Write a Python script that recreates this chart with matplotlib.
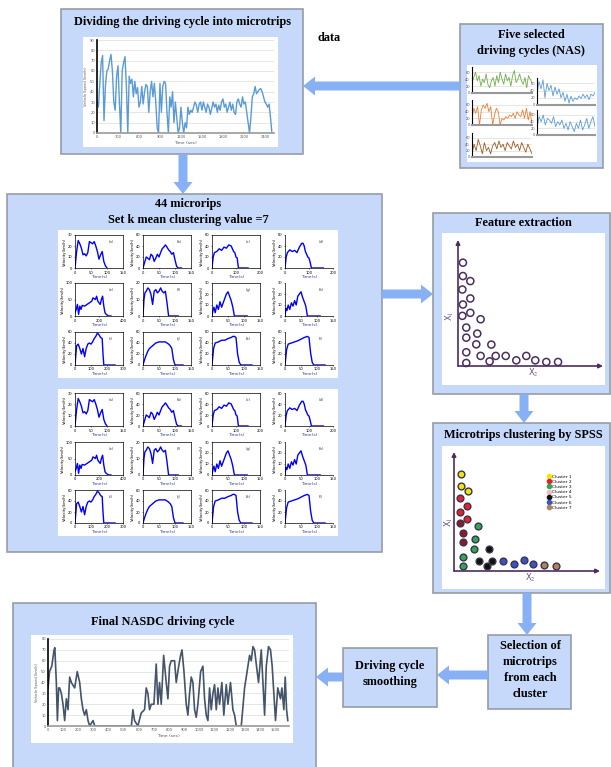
import matplotlib
matplotlib.use('Agg')
import matplotlib.pyplot as plt
from matplotlib.patches import Rectangle, FancyArrow
from matplotlib.lines import Line2D
import numpy as np

plt.rcParams['mathtext.fontset'] = 'stix'

# ---------------- data ----------------
# recorded cycle used for dividing into microtrips (one value every 20 s)
cycle_step = 20
cycle_speed = [30, 25, 48, 68, 75, 12, 45, 60, 62, 70, 76, 60, 30, 22, 55, 65, 30, 0, 60, 68,
               74, 45, 0, 55, 48, 52, 35, 50, 38, 44, 25, 30, 45, 28, 40, 47, 45, 20, 40, 50,
               35, 48, 30, 5, 0, 48, 20, 45, 50, 48, 20, 0, 35, 25, 40, 10, 30, 15, 0, 5,
               25, 10, 0, 10, 5, 25, 18, 22, 20, 25, 30, 27, 20, 28, 30, 22, 30, 25, 20, 28,
               25, 18, 24, 30, 25, 28, 20, 27, 22, 30, 33, 25, 28, 20, 25, 30, 22, 28, 20, 18,
               30, 33, 28, 25, 35, 28, 30, 20, 10, 0, 15, 35, 38, 45, 38, 40, 42, 43, 40, 35,
               30, 28, 25, 28, 15, 0]
cycle_xticks = [0, 300, 600, 900, 1200, 1500, 1800, 2100, 2400]

# five selected NAS cycles (thumbnails)
nas_green = [30, 45, 60, 35, 50, 20, 40, 30, 55, 25, 15, 35, 45, 20, 50, 30, 60, 40, 25, 55,
             35, 45, 20, 50, 65, 30, 40, 55, 35, 25, 45, 15, 50, 40, 30]
nas_orange = [20, 50, 35, 55, 0, 45, 60, 50, 65, 40, 55, 0, 30, 50, 40, 0, 20, 15, 25, 20,
              30, 25, 35, 20, 40, 30, 25, 45, 20, 50, 15, 40, 0]
nas_brown = [10, 40, 20, 55, 35, 10, 45, 20, 30, 10, 35, 45, 25, 50, 30, 40, 20, 45, 35, 25,
             50, 30, 40, 20, 45, 30, 15, 40, 25, 10]
nas_blue1 = [30, 65, 45, 70, 20, 60, 40, 55, 25, 50, 30, 45, 20, 35, 10, 30, 5, 25, 10, 20,
             15, 25, 18, 30, 20, 28, 15, 30, 25, 35]
nas_blue2 = [20, 55, 40, 60, 30, 50, 45, 35, 55, 25, 40, 30, 45, 20, 35, 15, 40, 25, 10, 35,
             20, 45, 15, 30, 50, 20, 40, 55, 25]

# microtrips (time s, velocity km/h)
micro_t = [
    [0, 5, 10, 15, 20, 25, 30, 35, 40, 45, 50, 55, 60, 65, 70, 75, 80, 85, 90, 95, 100],
    [0, 5, 10, 15, 20, 25, 30, 35, 40, 45, 50, 55, 60, 65, 70, 75, 80, 85, 90, 95, 100, 105, 110, 120],
    [0, 5, 10, 20, 30, 40, 50, 60, 70, 80, 85, 90, 95, 100, 105, 110, 150],
    [0, 5, 10, 20, 30, 40, 50, 60, 70, 75, 80, 85, 90, 95, 100, 105, 110, 160],
    [0, 10, 20, 30, 40, 50, 60, 80, 100, 120, 140, 150, 170, 180, 190, 200, 210, 220, 230, 240, 250, 260, 280, 300],
    [0, 3, 6, 10, 15, 20, 25, 30, 35, 40, 45, 50, 55, 60, 65, 70, 75, 80, 110],
    [0, 3, 6, 10, 15, 20, 25, 30, 35, 40, 45, 50, 55, 60, 65, 70, 110],
    [0, 3, 6, 10, 15, 20, 25, 30, 35, 40, 45, 50, 55, 60, 65, 70, 110],
    [0, 10, 20, 30, 40, 50, 60, 70, 80, 90, 100, 110, 120, 130, 140, 150, 160, 170, 175, 180, 250],
    [0, 5, 10, 15, 20, 30, 40, 50, 60, 70, 75, 80, 85, 90, 95, 100, 125],
    [0, 5, 10, 20, 30, 40, 50, 60, 65, 70, 75, 80, 85, 90, 125],
    [0, 5, 10, 20, 30, 40, 50, 60, 65, 70, 75, 80, 85, 90, 125],
]
micro_v = [
    [0, 15, 25, 22, 18, 12, 13, 11, 14, 24, 23, 22, 24, 20, 15, 8, 12, 15, 6, 2, 0],
    [0, 10, 20, 18, 15, 25, 22, 12, 18, 25, 20, 28, 35, 38, 42, 38, 33, 30, 25, 28, 15, 3, 0, 0],
    [0, 20, 28, 30, 35, 32, 38, 36, 42, 40, 35, 30, 28, 20, 18, 0, 0],
    [0, 20, 28, 33, 30, 32, 28, 38, 45, 45, 40, 30, 25, 20, 18, 10, 0, 0],
    [10, 20, 35, 5, 30, 20, 32, 30, 35, 40, 45, 55, 50, 60, 45, 40, 35, 50, 60, 30, 10, 5, 0, 0],
    [0, 10, 14, 15, 17, 16, 13, 7, 15, 16, 14, 15, 17, 15, 14, 15, 8, 0, 0],
    [0, 5, 8, 3, 10, 6, 13, 8, 12, 16, 20, 22, 18, 14, 8, 0, 0],
    [0, 7, 5, 10, 6, 12, 9, 14, 10, 18, 20, 22, 17, 13, 9, 0, 0],
    [0, 35, 38, 30, 20, 30, 15, 30, 38, 40, 38, 42, 48, 52, 58, 55, 50, 48, 20, 0, 0],
    [0, 10, 18, 25, 30, 35, 40, 42, 42, 42, 40, 38, 35, 30, 10, 0, 0],
    [0, 30, 40, 42, 45, 45, 48, 50, 52, 52, 50, 20, 5, 0, 0],
    [0, 28, 38, 40, 42, 44, 47, 50, 51, 52, 50, 22, 5, 0, 0],
]
micro_xticks = [[0, 50, 100, 150], [0, 50, 100, 150], [0, 100, 200], [0, 100, 200],
                [0, 200, 400], [0, 50, 100, 150], [0, 50, 100, 150], [0, 50, 100, 150],
                [0, 100, 200, 300], [0, 50, 100, 150], [0, 50, 100, 150], [0, 50, 100, 150]]
micro_yticks = [[0, 10, 20, 30], [0, 20, 40, 60], [0, 20, 40, 60], [0, 20, 40, 60],
                [0, 50, 100], [0, 10, 20], [0, 10, 20, 30], [0, 10, 20, 30],
                [0, 20, 40, 60], [0, 20, 40, 60], [0, 20, 40, 60], [0, 20, 40, 60]]
micro_tags = ['(a)', '(b)', '(c)', '(d)', '(e)', '(f)', '(g)', '(h)', '(i)', '(j)', '(k)', '(l)']

# extracted features (X2, X1)
feat_x2 = [0.34, 0.34, 0.85, 0.30, 0.85, 0.34, 0.85, 0.30, 1.56, 0.57, 1.33, 0.57, 1.26,
           2.30, 0.57, 1.56, 2.18, 2.60, 3.29, 4.02, 4.71, 5.33, 6.09, 6.90, 0.57]
feat_x1 = [8.2, 7.14, 6.74, 6.07, 5.36, 4.88, 4.22, 3.98, 3.71, 3.05, 2.57, 2.25, 1.72,
           1.70, 1.09, 0.80, 0.37, 0.80, 0.80, 0.45, 0.80, 0.45, 0.32, 0.32, 0.24]

# clustered microtrips
cluster_names = ['Cluster 1', 'Cluster 2', 'Cluster 3', 'Cluster 4', 'Cluster 5', 'Cluster 6', 'Cluster 7']
cluster_x2 = [[0.48, 0.48, 0.96], [0.43, 0.92, 0.43, 0.92], [1.65, 1.42, 1.35, 0.62, 0.62],
              [0.43, 0.62, 0.62], [2.38, 1.72, 2.27, 2.63], [3.36, 4.09, 4.78, 5.42], [6.18, 6.96]]
cluster_x1 = [[8.18, 7.14, 6.72], [6.13, 5.46, 4.96, 4.34], [3.81, 2.69, 1.85, 1.18, 0.42],
              [4.06, 3.17, 2.41], [1.85, 0.84, 0.42, 0.84], [0.84, 0.62, 0.90, 0.62], [0.48, 0.42]]
cluster_colors = ['#f2e600', '#e8202a', '#2fa84f', '#8b1a2b', '#111111', '#3a54c8', '#b0845a']
legend_colors = ['#f2e600', '#e8202a', '#2fa84f', '#f5b6c8', '#111111', '#3a54c8', '#b0845a']

# final NASDC driving cycle
nasdc_t = [0, 10, 25, 40, 45, 55, 62, 70, 77, 88, 99, 110, 121, 132, 143, 154, 176, 193, 209,
           220, 231, 242, 253, 264, 275, 297, 308, 550, 560, 571, 593, 615, 637, 648, 659, 670,
           681, 699, 714, 725, 736, 747, 763, 780, 791, 802, 813, 835, 846, 862, 875, 884, 897,
           912, 923, 934, 945, 956, 967, 978, 989, 1007, 1022, 1033, 1044, 1055, 1066, 1077,
           1088, 1099, 1110, 1121, 1132, 1147, 1160, 1176, 1187, 1204, 1220, 1231, 1242, 1275,
           1297, 1319, 1330, 1341, 1352, 1363, 1380, 1389, 1407, 1418, 1429, 1440, 1455, 1468,
           1479, 1490, 1501, 1516, 1534, 1543, 1556, 1565, 1574, 1582]
nasdc_v = [35, 50, 55, 70, 72, 40, 5, 35, 35, 30, 20, 5, 25, 15, 45, 40, 35, 50, 40,
           25, 15, 10, 15, 5, 0, 5, 0, 0, 15, 5, 0, 12, 15, 35, 30, 15,
           20, 20, 57, 20, 40, 20, 65, 40, 25, 55, 60, 60, 40, 55, 65, 70, 50,
           20, 10, 30, 45, 40, 15, 8, 20, 50, 55, 25, 10, 5, 35, 15,
           30, 38, 15, 35, 20, 40, 10, 38, 20, 40, 15, 10, 0, 0,
           35, 55, 65, 60, 73, 70, 50, 40, 70, 40, 10, 55, 73, 70,
           55, 30, 5, 35, 25, 35, 15, 45, 15, 5]

# ---------------- layout helpers ----------------
W, H = 611, 767
fig = plt.figure(figsize=(W / 100, H / 100), dpi=100)
bg = fig.add_axes([0, 0, 1, 1])
bg.set_xlim(0, W)
bg.set_ylim(H, 0)
bg.axis('off')

BOX_FILL = '#c6d9fb'
BOX_EDGE = '#979ca6'
ARROW = '#88b0f4'
SERIF = 'Liberation Serif'


def px_axes(x0, y0, x1, y1):
    return fig.add_axes([x0 / W, 1 - y1 / H, (x1 - x0) / W, (y1 - y0) / H])


def box(x0, y0, x1, y1, fill=BOX_FILL):
    bg.add_patch(Rectangle((x0, y0), x1 - x0, y1 - y0, facecolor=fill,
                           edgecolor=BOX_EDGE, lw=1.2))


def white(x0, y0, x1, y1):
    bg.add_patch(Rectangle((x0, y0), x1 - x0, y1 - y0, facecolor='white', edgecolor='none'))


def arrow(x0, y0, x1, y1):
    bg.add_patch(FancyArrow(x0, y0, x1 - x0, y1 - y0, width=9, head_width=19,
                            head_length=12, length_includes_head=True,
                            facecolor=ARROW, edgecolor='none'))


def title(x, y, s, size=8.8):
    bg.text(x, y, s, ha='center', va='center', fontsize=size, fontweight='bold',
            family=SERIF, linespacing=1.45)


# ---------------- boxes ----------------
box(61, 9, 303, 154)
box(460, 24, 603, 168)
box(7, 194, 382, 552)
box(433, 213, 610, 394)
box(433, 423, 610, 593)
box(488, 635, 571, 709)
box(343, 648, 437, 707)
box(13, 603, 316, 780)

white(83, 37, 278, 147)
white(467, 65, 597, 162)
white(58, 230, 338, 378)
white(58, 389, 338, 536)
white(442, 233, 605, 385)
white(442, 446, 605, 589)
white(31, 635, 293, 743)

arrow(460, 86, 303, 86)
arrow(183, 154, 183, 194)
arrow(382, 294, 433, 294)
arrow(524, 394, 524, 423)
arrow(527, 593, 527, 635)
arrow(488, 675, 437, 675)
arrow(343, 677, 316, 677)

title(182, 22, 'Dividing the driving cycle into microtrips')
bg.text(318, 38, 'data', ha='left', va='center', fontsize=8.8, fontweight='bold', family=SERIF)
title(531, 43, 'Five selected\ndriving cycles (NAS)')
title(188, 212, '44 microrips\nSet k mean clustering value =7')
title(523, 223, 'Feature extraction')
title(523, 435, 'Microtrips clustering by SPSS')
title(530, 670, 'Selection of\nmicrotrips\nfrom each\ncluster')
title(390, 674, 'Driving cycle\nsmoothing')
title(163, 622, 'Final NASDC driving cycle')


def line_chart(ax, x, y, color, lw, xmax, ymax, xticks, yticks, xlabel, ylabel, tick_fs=2.6):
    ax.plot(x, y, color=color, lw=lw)
    ax.set_xlim(0, xmax)
    ax.set_ylim(0, ymax)
    ax.set_xticks(xticks)
    ax.set_yticks(yticks)
    ax.yaxis.grid(True, color='#dcdcdc', lw=0.5)
    ax.set_axisbelow(True)
    for s in ('top', 'right'):
        ax.spines[s].set_visible(False)
    ax.spines['left'].set_color('black')
    ax.spines['left'].set_linewidth(1.2)
    ax.spines['bottom'].set_color('#999999')
    ax.spines['bottom'].set_linewidth(1.2)
    ax.tick_params(length=0, labelsize=tick_fs, colors='#555555', pad=1.5)
    ax.set_xlabel(xlabel, fontsize=tick_fs + 0.6, color='#555555', labelpad=1.5)
    ax.set_ylabel(ylabel, fontsize=tick_fs, color='#555555', labelpad=1.5)
    ax.patch.set_alpha(0)


# box 1 chart
ax = px_axes(97, 40, 274, 133)
t1 = np.arange(len(cycle_speed)) * cycle_step
line_chart(ax, t1, cycle_speed, '#5b9bd5', 1.0, 2530, 90, cycle_xticks,
           list(range(0, 91, 10)), 'Time (sec)', 'Vehicle Speed (km/h)')

# five NAS thumbnails
thumbs = [((472, 67, 532, 93), nas_green, '#70ad47'),
          ((472, 100, 532, 125), nas_orange, '#ed7d31'),
          ((472, 133, 532, 157), nas_brown, '#9c5a1c'),
          ((537, 78, 595, 105), nas_blue1, '#5b9bd5'),
          ((537, 110, 595, 135), nas_blue2, '#5b9bd5')]
for (x0, y0, x1, y1), vals, col in thumbs:
    ax = px_axes(x0, y0, x1, y1)
    xs = np.arange(len(vals))
    line_chart(ax, xs, vals, col, 0.6, len(vals) - 1, 75, [], [0, 20, 40, 60], '', '')
    ax.spines['left'].set_linewidth(0.8)
    ax.spines['bottom'].set_linewidth(1.5)

# microtrip panels (two copies of the 12 microtrips)
col_left = [75, 143, 212, 285]
for row_tops in ([235, 283, 332], [393, 442, 490]):
    for k in range(12):
        r, c = divmod(k, 4)
        x0, y0 = col_left[c], row_tops[r]
        ax = px_axes(x0, y0, x0 + 48, y0 + 33)
        ax.plot(micro_t[k], micro_v[k], color='#0000ff', lw=1.0)
        ax.set_xlim(0, micro_xticks[k][-1])
        ax.set_ylim(0, micro_yticks[k][-1])
        ax.set_xticks(micro_xticks[k])
        ax.set_yticks(micro_yticks[k])
        ax.tick_params(length=1, width=0.4, labelsize=2.6, pad=0.8)
        for s in ax.spines.values():
            s.set_linewidth(0.5)
        if c == 3:
            ax.spines['top'].set_visible(False)
            ax.spines['right'].set_visible(False)
        ax.set_xlabel('Time(s)', fontsize=3.2, labelpad=0.5, color='#3040a0')
        ax.set_ylabel('Velocity(km/h)', fontsize=2.8, labelpad=0.5)
        ax.text(0.75, 0.78, micro_tags[k], transform=ax.transAxes, fontsize=2.8,
                ha='center', va='center', color='#444444')


def arrow_axes(ax, label_color):
    ax.set_xlim(0, 10)
    ax.set_ylim(0, 10)
    ax.axis('off')
    ax.annotate('', xy=(10, 0), xytext=(0, 0), xycoords='data',
                arrowprops=dict(arrowstyle='-|>', color=label_color, lw=1.2,
                                mutation_scale=6, shrinkA=0, shrinkB=0),
                annotation_clip=False)
    ax.annotate('', xy=(0, 10), xytext=(0, 0), xycoords='data',
                arrowprops=dict(arrowstyle='-|>', color=label_color, lw=1.2,
                                mutation_scale=6, shrinkA=0, shrinkB=0),
                annotation_clip=False)


# feature extraction
purple = '#4b2d5e'
ax = px_axes(458, 240, 603, 366)
arrow_axes(ax, purple)
ax.scatter(feat_x2, feat_x1, s=26, facecolors='none', edgecolors=purple, linewidths=1.1, clip_on=False)
bg.text(450, 316, r'X$_1$', rotation=90, fontsize=6, color='#6a4c8c', ha='center', va='center')
bg.text(533, 373, r'X$_2$', fontsize=6, color='#6a4c8c', ha='center', va='center')

# clustering
ax = px_axes(454, 452, 600, 571)
arrow_axes(ax, purple)
for xs, ys, col in zip(cluster_x2, cluster_x1, cluster_colors):
    ax.scatter(xs, ys, s=24, facecolors=col, edgecolors='#3d3350', linewidths=1.0, clip_on=False)
handles = [Line2D([], [], marker='o', ls='none', markersize=3, markerfacecolor=c,
                  markeredgecolor=c) for c in legend_colors]
ax.legend(handles, cluster_names, loc='upper left', bbox_to_anchor=(0.62, 0.83),
          frameon=False, fontsize=3.2, handletextpad=0.2, labelspacing=0.25,
          handlelength=1.0, borderpad=0)
bg.text(449, 522, r'X$_1$', rotation=90, fontsize=6, color='#6a4c8c', ha='center', va='center')
bg.text(530, 578, r'X$_2$', fontsize=6, color='#6a4c8c', ha='center', va='center')

# final NASDC cycle
ax = px_axes(48, 639, 289, 726)
line_chart(ax, nasdc_t, nasdc_v, '#44546a', 1.2, 1590, 80,
           list(range(0, 1501, 100)), list(range(0, 81, 10)), 'Time (sec)', 'Vehicle Speed (km/h)')

fig.savefig('out.png', dpi=100)
